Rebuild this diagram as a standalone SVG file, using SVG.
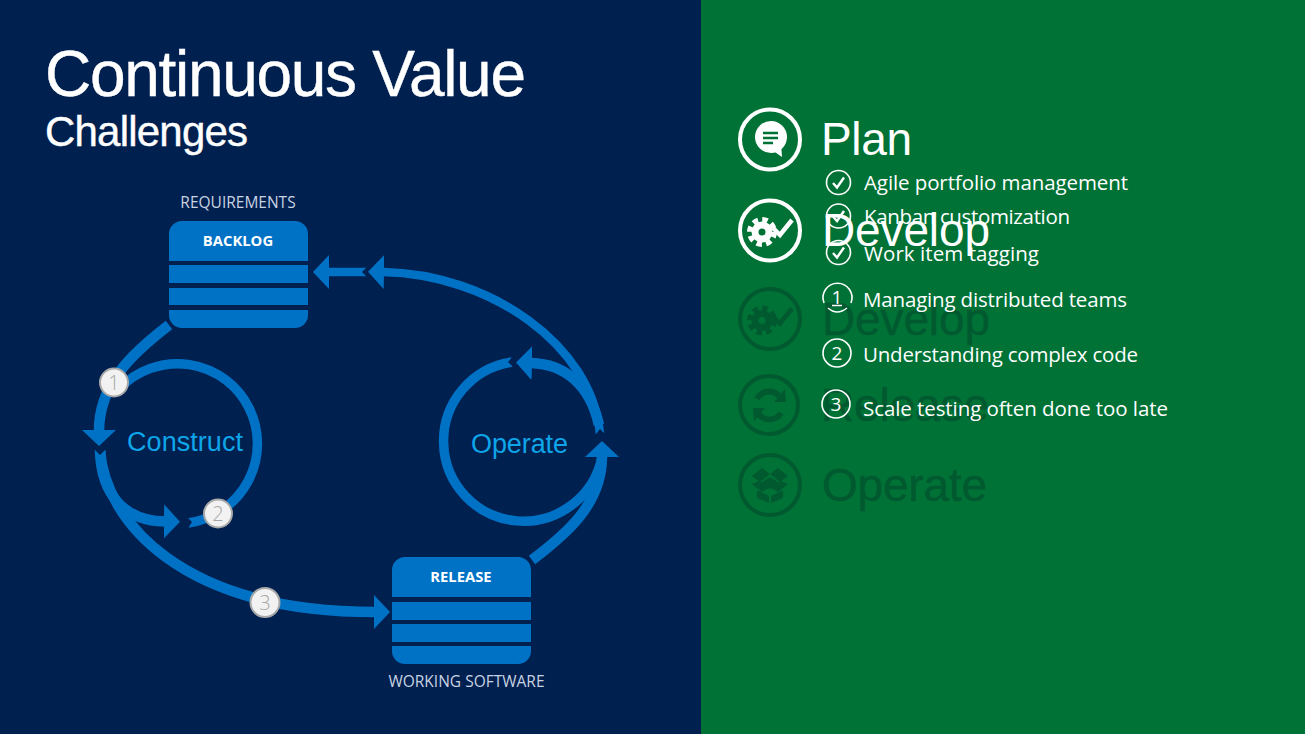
<svg xmlns="http://www.w3.org/2000/svg" xmlns:xlink="http://www.w3.org/1999/xlink" width="1305" height="734" viewBox="0 0 1305 734">
<style>
.arial{font-family:"Liberation Sans",Arial,sans-serif}
.ui{font-family:"Open Sans","Noto Sans",sans-serif}
.box{fill:#0072c6}
.cap{font-size:15.500px;fill:#c9d3e2;text-anchor:middle}
.boxt{font-size:14.800px;font-weight:700;fill:#fff;text-anchor:middle}
.cyc{font-size:27px;fill:#0ea5e9}
.title{fill:#fff;stroke:#fff;stroke-width:.4}
.wire{fill:none;stroke:#0072c6;stroke-width:10.500}
.thin{stroke-width:9.500}
.slim{stroke-width:8.500}
.nick{fill:#002050}
.badge circle{fill:#f2f2f2;stroke:#a8a8a8;stroke-width:2}
.badge text{font-size:20px;font-weight:300;fill:#a8a8a8;text-anchor:middle}
.on{color:#fff;fill:#fff}
.off{color:#00592f;fill:#00592f}
.off text{stroke:#00592f;stroke-width:.4}
.ring{fill:none;stroke:currentColor;stroke-width:4}
.head{font-size:46px}
.li{font-size:20.500px;fill:#fff}
.tick circle,.num circle,.num path{fill:none;stroke:#fff;stroke-width:1.600}
.tick path{fill:none;stroke:#fff;stroke-width:2.400}
.num text{font-size:19px;fill:#fff;text-anchor:middle}
</style>
<defs>
<marker id="ah" markerUnits="userSpaceOnUse" viewBox="0 0 16 34" refX="1" refY="17" markerWidth="16" markerHeight="34" orient="auto"><polygon points="0,0 16,17 0,34" fill="#0072c6"/></marker>
<g id="gearcheck">
<circle cx="-8" cy="1.500" r="7" fill="none" stroke="currentColor" stroke-width="7"/>
<circle cx="-8" cy="1.500" r="12.500" fill="none" stroke="currentColor" stroke-width="5" stroke-dasharray="5.500 4.300"/>
<path d="M3 -2.500L10 4.500L22 -10.500" fill="none" stroke="currentColor" stroke-width="4.500"/>
</g>
</defs>
<rect width="701" height="734" fill="#002050"/>
<rect x="701" width="604" height="734" fill="#007236"/>
<text class="arial title" x="45" y="96" font-size="64" textLength="481">Continuous Value</text>
<text class="arial title" x="45" y="145.500" font-size="42" textLength="203">Challenges</text>

<g id="connectors">
<path class="wire" d="M169 325C130 355 99 385 99 431" marker-end="url(#ah)"/>
<path class="wire" d="M100 450C101 495 125 521 165 521.500" marker-end="url(#ah)"/>
<path class="wire" d="M100 450C105 520 180 612 375 612" marker-end="url(#ah)"/>
<path class="wire thin" d="M120 388A80 80 0 1 1 188 523"/>
<path class="wire" d="M532 560C565 535 602 505 602 456" marker-end="url(#ah)"/>
<path class="wire thin" d="M512 362A80 80 0 1 0 602 457"/>
<path class="wire slim" d="M600 434C592 345 490 274 383 272" marker-end="url(#ah)"/>
<path class="wire" d="M599 425C590 385 565 364 531 363" marker-end="url(#ah)"/>
<path class="wire slim" d="M366 272L328 272" marker-end="url(#ah)"/>
<polygon class="nick" points="93,448 107,448 100,455"/>
<polygon class="nick" points="593,438 609,438 600,429"/>
<polygon class="nick" points="368,266 368,278 362,272"/>
<polygon class="nick" points="185,515 187,530 192,522"/>
<polygon class="nick" points="514,355 515,369 508,362"/>
</g>

<g id="backlog">
<path class="box" d="M169 261V234a13 13 0 0 1 13-13H295a13 13 0 0 1 13 13V261ZM169 265H308V283H169ZM169 288H308V305H169ZM169 310H308V315a13 13 0 0 1-13 13H182a13 13 0 0 1-13-13Z"/>
<text class="ui boxt" x="238" y="246">BACKLOG</text>
<text class="ui cap" x="238" y="208">REQUIREMENTS</text>
</g>
<g id="release">
<path class="box" d="M392 597V570a13 13 0 0 1 13-13H518a13 13 0 0 1 13 13V597ZM392 602H531V620H392ZM392 624H531V642H392ZM392 646H531V651a13 13 0 0 1-13 13H405a13 13 0 0 1-13-13Z"/>
<text class="ui boxt" x="461" y="582">RELEASE</text>
<text class="ui cap" x="466.500" y="687">WORKING SOFTWARE</text>
</g>
<g id="construct"><text class="arial cyc" x="127" y="451" textLength="116">Construct</text></g>
<g id="operate"><text class="arial cyc" x="471" y="453" textLength="97">Operate</text></g>
<g id="badge1" class="badge"><circle cx="114" cy="382.500" r="14"/><text class="ui" x="114" y="390">1</text></g>
<g id="badge2" class="badge"><circle cx="218" cy="513.500" r="14"/><text class="ui" x="218" y="521">2</text></g>
<g id="badge3" class="badge"><circle cx="265" cy="602.500" r="14.500"/><text class="ui" x="265" y="610">3</text></g>

<g id="develop-dim" class="off">
<circle class="ring" cx="770" cy="319" r="30"/>
<use xlink:href="#gearcheck" href="#gearcheck" x="770" y="319"/>
<text class="arial head" x="822" y="335" textLength="168">Develop</text>
</g>
<g id="release-dim" class="off">
<circle class="ring" cx="769" cy="405" r="29"/>
<path d="M757 399A13.500 13.500 0 0 1 779 396M757 411A13.500 13.500 0 0 0 781 413" fill="none" stroke="currentColor" stroke-width="6"/>
<polygon points="774,402 786,402 785,389"/><polygon points="753,408 765,408 754,421"/>
<text class="arial head" x="821" y="421" textLength="168">Release</text>
</g>
<g id="operate-dim" class="off">
<circle class="ring" cx="770" cy="485" r="30"/>
<polygon points="752,476 762,468 770,474 760,482"/><polygon points="788,476 778,468 770,474 780,482"/>
<polygon points="770,477 761,483 770,489 779,483"/>
<polygon points="752,484 759,481 769,488 762,492"/><polygon points="788,484 781,481 771,488 778,492"/>
<polygon points="757,490 769,496 769,503 757,498"/><polygon points="783,490 771,496 771,503 783,498"/>
<text class="arial head" x="822" y="501" textLength="165">Operate</text>
</g>

<g id="plan" class="on">
<circle class="ring" cx="770" cy="139.500" r="30"/>
<circle cx="771" cy="137" r="16"/>
<polygon points="772,150 782,157 781,144"/>
<path d="M763 133H778M763 138H778M763 143H773" stroke="#007236" stroke-width="2.500"/>
<text class="arial head" x="821" y="155" textLength="91">Plan</text>
</g>
<g id="plan-items">
<g class="tick"><circle cx="838.500" cy="182.500" r="12"/><path d="M833 183L837 187.500L844 177.500"/></g>
<text class="ui li" x="864" y="190" textLength="264">Agile portfolio management</text>
<g class="tick"><circle cx="838.500" cy="216" r="12"/><path d="M833 216.500L837 221L844 211"/></g>
<text class="ui li" x="864" y="224" textLength="206">Kanban customization</text>
<g class="tick"><circle cx="838.500" cy="252.500" r="12"/><path d="M833 253L837 257.500L844 247.500"/></g>
<text class="ui li" x="864" y="261" textLength="175">Work item tagging</text>
</g>
<g id="develop" class="on">
<circle class="ring" cx="770" cy="230.500" r="30"/>
<use xlink:href="#gearcheck" href="#gearcheck" x="770" y="230.500"/>
<text class="arial head" x="822" y="246" textLength="168">Develop</text>
</g>
<g id="develop-items">
<g class="num"><path d="M824 303A14.500 14.500 0 1 1 851 303M828 308Q837 316 847 308M832 305.500H842"/><text class="ui" x="837" y="304" font-size="17">1</text></g>
<text class="ui li" x="863" y="307" textLength="264">Managing distributed teams</text>
<g class="num"><circle cx="837" cy="353" r="14"/><text class="ui" x="837" y="360">2</text></g>
<text class="ui li" x="863" y="362" textLength="275">Understanding complex code</text>
<g class="num"><circle cx="836" cy="404" r="14"/><text class="ui" x="836" y="411">3</text></g>
<text class="ui li" x="863" y="416" textLength="305">Scale testing often done too late</text>
</g>
</svg>
